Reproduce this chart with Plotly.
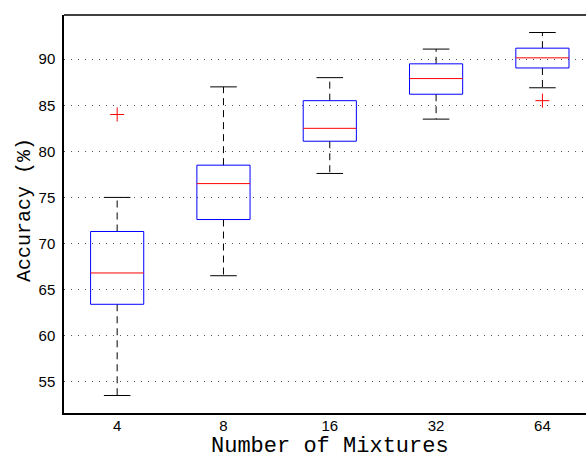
import plotly.graph_objects as go

categories = ["4", "8", "16", "32", "64"]
q1 = [63.4, 72.6, 81.1, 86.2, 89.05]
median = [66.8, 76.5, 82.5, 87.9, 90.15]
q3 = [71.3, 78.5, 85.5, 89.5, 91.2]
lower_whisker = [53.5, 66.5, 77.6, 83.5, 86.9]
upper_whisker = [75.0, 87.0, 88.0, 91.1, 92.9]
outlier_group = ["4", "64"]
outlier_values = [84.0, 85.5]
y_ticks = [55, 60, 65, 70, 75, 80, 85, 90]

BOX_HALF = 0.25
CAP_HALF = 0.125

pos = {c: i + 1 for i, c in enumerate(categories)}

wx, wy, cx, cy, bx, by, mx, my = [], [], [], [], [], [], [], []
for c, a, m, b, lo, hi in zip(categories, q1, median, q3, lower_whisker, upper_whisker):
    p = pos[c]
    wx += [p, p, None, p, p, None]
    wy += [b, hi, None, a, lo, None]
    cx += [p - CAP_HALF, p + CAP_HALF, None, p - CAP_HALF, p + CAP_HALF, None]
    cy += [hi, hi, None, lo, lo, None]
    bx += [p - BOX_HALF, p + BOX_HALF, p + BOX_HALF, p - BOX_HALF, p - BOX_HALF, None]
    by += [a, a, b, b, a, None]
    mx += [p - BOX_HALF, p + BOX_HALF, None]
    my += [m, m, None]

fig = go.Figure()
fig.add_trace(go.Scatter(x=wx, y=wy, mode="lines", line=dict(color="black", width=1, dash="7px,5px"),
                         showlegend=False, hoverinfo="skip"))
fig.add_trace(go.Scatter(x=cx, y=cy, mode="lines", line=dict(color="black", width=1),
                         showlegend=False, hoverinfo="skip"))
fig.add_trace(go.Scatter(x=bx, y=by, mode="lines", line=dict(color="#0000ff", width=1),
                         showlegend=False, hoverinfo="skip"))
fig.add_trace(go.Scatter(x=mx, y=my, mode="lines", line=dict(color="#ff0000", width=1),
                         showlegend=False, hoverinfo="skip"))
fig.add_trace(go.Scatter(x=[pos[c] for c in outlier_group], y=outlier_values, mode="markers",
                         marker=dict(symbol="cross-thin", size=10, line=dict(color="#ff0000", width=1)),
                         showlegend=False, hoverinfo="skip"))

fig.update_layout(
    width=586, height=453,
    margin=dict(l=64, r=0, t=15, b=40),
    paper_bgcolor="white", plot_bgcolor="white",
    font=dict(family="Liberation Sans", size=15, color="black"),
    xaxis=dict(range=[0.5, 5.41], tickvals=[pos[c] for c in categories], ticktext=categories,
               showgrid=False, zeroline=False, showline=True, linecolor="black", linewidth=1.5,
               mirror=False, ticks="", ticklabelstandoff=-2),
    yaxis=dict(range=[51.6, 94.8], tickvals=y_ticks, showgrid=True, gridcolor="#555555",
               griddash="1px,6px", gridwidth=1, zeroline=False, showline=True, linecolor="black",
               linewidth=1.5, mirror=False, ticks="", ticklabelstandoff=4),
    shapes=[dict(type="line", xref="paper", yref="paper", x0=0, x1=1, y0=1, y1=1,
                 line=dict(color="black", width=1.5))],
    annotations=[
        dict(text="Number of Mixtures", xref="paper", yref="paper", x=(330 - 64) / 522,
             y=(413 - 446) / 398, xanchor="center", yanchor="middle", showarrow=False,
             font=dict(family="Liberation Mono", size=22, color="black")),
        dict(text="Accuracy (%)", xref="paper", yref="paper", x=(25 - 64) / 522, y=(413 - 210) / 398,
             xanchor="center", yanchor="middle", textangle=-90, showarrow=False,
             font=dict(family="Liberation Mono", size=20, color="black")),
    ],
)

fig.write_html("out.html")
